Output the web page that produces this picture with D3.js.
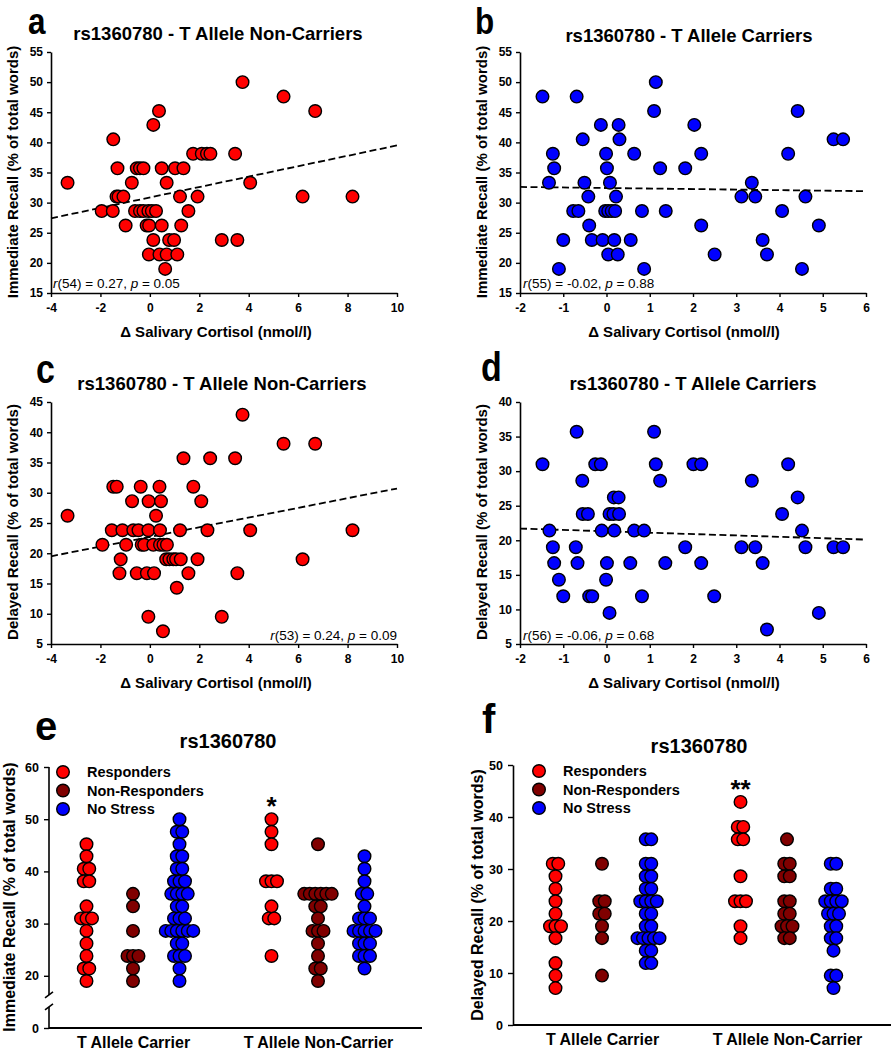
<!DOCTYPE html>
<html><head><meta charset="utf-8">
<script src="https://cdn.jsdelivr.net/npm/d3@7"></script>
<style>
body{margin:0;background:#fff}
svg{display:block;font-family:"Liberation Sans",Arial,Helvetica,sans-serif}
</style>
</head><body>
<svg id="chart" width="891" height="1050"></svg>
<script>
// ---------------- DATA ----------------
// Panel a: T allele non-carriers, immediate recall  [Δ cortisol, recall %]
const pointsA = [
 [3.75,50.0],[5.41,47.6],[0.37,45.2],[6.69,45.2],[0.14,42.9],[-1.48,40.5],
 [1.75,38.1],[2.10,38.1],[2.31,38.1],[2.45,38.1],[3.45,38.1],
 [-1.31,35.7],[-0.53,35.7],[-0.40,35.7],[-0.26,35.7],[0.48,35.7],[1.02,35.7],[1.36,35.7],
 [-3.33,33.3],[-0.73,33.3],[0.68,33.3],[4.06,33.3],
 [-1.35,31.0],[-1.27,31.0],[-1.07,31.0],[1.22,31.0],[1.93,31.0],[6.18,31.0],[8.20,31.0],
 [-1.95,28.6],[-1.50,28.6],[-0.60,28.6],[-0.40,28.6],[-0.26,28.6],[-0.06,28.6],[0.08,28.6],[0.25,28.6],[1.56,28.6],
 [-0.98,26.2],[-0.13,26.2],[-0.03,26.2],[0.48,26.2],[1.27,26.2],
 [0.14,23.8],[0.78,23.8],[0.98,23.8],[2.91,23.8],[3.54,23.8],
 [-0.04,21.4],[0.39,21.4],[0.68,21.4],[1.11,21.4],
 [0.62,19.0]
];
// Panel b: T allele carriers, immediate recall
const pointsB = [
 [-1.48,47.6],[-0.69,47.6],[1.14,50.0],[1.10,45.2],[4.42,45.2],
 [-0.13,42.9],[0.28,42.9],[2.03,42.9],
 [-0.55,40.5],[0.30,40.5],[5.25,40.5],[5.47,40.5],
 [-1.24,38.1],[-0.01,38.1],[0.64,38.1],[2.19,38.1],[4.20,38.1],
 [-1.21,35.7],[0.01,35.7],[1.24,35.7],[1.82,35.7],
 [-1.33,33.3],[-0.51,33.3],[0.08,33.3],[3.36,33.3],
 [-0.42,31.0],[0.22,31.0],[3.12,31.0],[3.44,31.0],[4.60,31.0],
 [-0.77,28.6],[-0.65,28.6],[-0.03,28.6],[0.04,28.6],[0.12,28.6],[0.20,28.6],[0.82,28.6],[1.37,28.6],[4.06,28.6],
 [-0.40,26.2],[2.19,26.2],[4.91,26.2],
 [-1.00,23.8],[-0.34,23.8],[-0.09,23.8],[0.18,23.8],[0.56,23.8],[3.61,23.8],
 [0.04,21.4],[0.26,21.4],[2.50,21.4],[3.71,21.4],
 [-1.10,19.0],[0.87,19.0],[4.52,19.0]
];
// Panel c: T allele non-carriers, delayed recall
const pointsC = [
 [3.75,42.9],[5.41,38.1],[6.69,38.1],
 [1.36,35.7],[2.44,35.7],[3.45,35.7],
 [-1.48,31.0],[-1.34,31.0],[-0.37,31.0],[0.39,31.0],[1.76,31.0],
 [-0.72,28.6],[-0.05,28.6],[0.45,28.6],[2.08,28.6],
 [-3.33,26.2],[0.25,26.2],
 [-1.54,23.8],[-1.11,23.8],[-0.67,23.8],[-0.46,23.8],[-0.06,23.8],[0.41,23.8],[1.22,23.8],[2.33,23.8],[4.06,23.8],[8.20,23.8],
 [-1.92,21.4],[-0.96,21.4],[-0.33,21.4],[-0.23,21.4],[0.14,21.4],[0.41,21.4],[0.55,21.4],[0.69,21.4],
 [-1.18,19.0],[0.66,19.0],[0.79,19.0],[0.95,19.0],[1.06,19.0],[1.25,19.0],[1.93,19.0],[6.18,19.0],
 [-1.23,16.7],[-0.53,16.7],[-0.12,16.7],[0.17,16.7],[1.56,16.7],[3.54,16.7],
 [1.09,14.3],
 [-0.06,9.5],[2.91,9.5],
 [0.53,7.1]
];
// Panel d: T allele carriers, delayed recall
const pointsD = [
 [-0.69,35.7],[1.10,35.7],
 [-1.48,31.0],[-0.26,31.0],[-0.13,31.0],[1.14,31.0],[2.01,31.0],[2.19,31.0],[4.20,31.0],
 [-0.56,28.6],[1.24,28.6],[3.36,28.6],
 [0.17,26.2],[0.28,26.2],[4.42,26.2],
 [-0.55,23.8],[-0.43,23.8],[0.07,23.8],[0.16,23.8],[0.29,23.8],[4.06,23.8],
 [-1.32,21.4],[-0.11,21.4],[0.18,21.4],[0.64,21.4],[0.87,21.4],[4.52,21.4],
 [-1.24,19.0],[-0.71,19.0],[1.82,19.0],[3.12,19.0],[3.44,19.0],[4.60,19.0],[5.25,19.0],[5.47,19.0],
 [-1.21,16.7],[-0.67,16.7],[0.01,16.7],[0.55,16.7],[1.36,16.7],[2.19,16.7],[3.61,16.7],
 [-1.10,14.3],[-0.01,14.3],
 [-1.00,11.9],[-0.40,11.9],[-0.33,11.9],[0.82,11.9],[2.49,11.9],
 [0.07,9.5],[4.91,9.5],
 [3.71,7.1]
];
// regression lines [x, y] endpoints
const fitA = [[-4,27.4],[10,39.5]];
const fitB = [[-2,32.6],[6,31.9]];
const fitC = [[-4,19.5],[10,30.7]];
const fitD = [[-2,21.7],[6,20.1]];
// stats texts [df, r, p]
const statA = ["54","0.27","0.05"];
const statB = ["55","-0.02","0.88"];
const statC = ["53","0.24","0.09"];
const statD = ["56","-0.06","0.68"];

// Panels e/f categories & groups
const categories = ["T Allele Carrier","T Allele Non-Carrier"];
const groups = ["Responders","Non-Responders","No Stress"];
// Panel e (immediate recall)
const eRespCarrier = [45.2,42.9,40.5,40.5,38.1,38.1,33.3,31.0,31.0,31.0,28.6,26.2,23.8,21.4,21.4,19.0];
const eNonRespCarrier = [35.7,33.3,28.6,23.8,23.8,23.8,21.4,19.0];
const eNoStressCarrier = [50.0,47.6,47.6,45.2,42.9,42.9,40.5,40.5,38.1,38.1,38.1,35.7,35.7,35.7,35.7,33.3,33.3,
  31.0,31.0,31.0,28.6,28.6,28.6,28.6,28.6,28.6,26.2,26.2,23.8,23.8,23.8,21.4,19.0];
const eRespNonCarrier = [50.0,47.6,45.2,38.1,38.1,38.1,33.3,31.0,31.0,23.8];
const eNonRespNonCarrier = [45.2,35.7,35.7,35.7,35.7,35.7,35.7,33.3,33.3,31.0,28.6,28.6,28.6,26.2,23.8,21.4,21.4,19.0];
const eNoStressNonCarrier = [42.9,40.5,38.1,35.7,35.7,33.3,31.0,31.0,31.0,28.6,28.6,28.6,28.6,28.6,
  26.2,26.2,26.2,23.8,23.8,23.8,21.4];
// Panel f (delayed recall)
const fRespCarrier = [31.0,31.0,28.6,26.2,23.8,21.4,19.0,19.0,19.0,16.7,11.9,9.5,7.1];
const fNonRespCarrier = [31.0,23.8,23.8,21.4,21.4,19.0,16.7,9.5];
const fNoStressCarrier = [35.7,35.7,31.0,31.0,28.6,28.6,26.2,26.2,23.8,23.8,23.8,23.8,21.4,21.4,19.0,19.0,
  16.7,16.7,16.7,16.7,16.7,14.3,14.3,11.9,11.9];
const fRespNonCarrier = [42.9,38.1,38.1,35.7,35.7,28.6,23.8,23.8,23.8,19.0,16.7];
const fNonRespNonCarrier = [35.7,31.0,31.0,28.6,28.6,23.8,23.8,21.4,21.4,19.0,19.0,19.0,16.7,16.7];
const fNoStressNonCarrier = [31.0,31.0,26.2,26.2,23.8,23.8,23.8,23.8,21.4,21.4,21.4,19.0,19.0,16.7,16.7,14.3,9.5,9.5,7.1];
const eSignif = "*";
const fSignif = "**";

// ---------------- DRAWING ----------------
const svg = d3.select("#chart");
const RED = "#ff0000", BLUE = "#0000ff", DARKRED = "#800000";
const R = 6.3;

function letter(t, x, y, sx, fs) {
  svg.append("text").attr("transform", `translate(${x},${y}) scale(${sx},1)`)
    .attr("font-size", fs).attr("font-weight", "bold").text(t);
}
function ytitle(t, x, y, fs) {
  svg.append("text").attr("transform", `translate(${x},${y}) rotate(-90)`)
    .attr("text-anchor", "middle").attr("dy", "0.35em")
    .attr("font-size", fs).attr("font-weight", "bold").text(t);
}
function styleAxis(g, fs) {
  g.selectAll("path.domain").attr("stroke", "#000").attr("stroke-width", 1.6);
  g.selectAll(".tick line").attr("stroke", "#000").attr("stroke-width", 1.4);
  g.selectAll(".tick text").attr("font-size", fs).attr("font-weight", "bold").attr("fill", "#000")
    .attr("font-family", '"Liberation Sans",Arial,sans-serif');
}

function scatter(c) {
  const x = d3.scaleLinear().domain(c.xd).range(c.xr);
  const y = d3.scaleLinear().domain(c.yd).range(c.yr);
  const g = svg.append("g");
  // axes
  const ya = g.append("g").attr("transform", `translate(${c.xr[0]},0)`)
    .call(d3.axisLeft(y).tickValues(c.yt).tickSize(4).tickSizeOuter(0).tickPadding(4).tickFormat(d => String(d)));
  styleAxis(ya, 12);
  const xa = g.append("g").attr("transform", `translate(0,${c.yr[0]})`)
    .call(d3.axisBottom(x).tickValues(c.xt).tickSize(4).tickSizeOuter(0).tickPadding(6).tickFormat(d => String(d)));
  styleAxis(xa, 12);
  // regression
  g.append("line")
    .attr("x1", x(c.fit[0][0])).attr("y1", y(c.fit[0][1]))
    .attr("x2", x(c.fit[1][0])).attr("y2", y(c.fit[1][1]))
    .attr("stroke", "#000").attr("stroke-width", 1.8).attr("stroke-dasharray", "7,3.5");
  // points
  g.selectAll("circle.pt").data(c.pts).join("circle").attr("class", "pt")
    .attr("cx", d => x(d[0])).attr("cy", d => y(d[1])).attr("r", R)
    .attr("fill", c.color).attr("stroke", "#000").attr("stroke-width", 1.4);
  // title
  g.append("text").attr("x", c.tx).attr("y", c.ty).attr("text-anchor", "middle")
    .attr("font-size", 18.5).attr("font-weight", "bold").text(c.title);
  // x title
  g.append("text").attr("x", c.xlx).attr("y", c.xly).attr("text-anchor", "middle")
    .attr("font-size", 15).attr("font-weight", "bold").text("\u0394 Salivary Cortisol (nmol/l)");
  ytitle(c.ylabel, c.ylx, c.yly, 15);
  // stats
  const st = g.append("text").attr("x", c.sx).attr("y", c.sy).attr("text-anchor", c.sa)
    .attr("font-size", 13.5);
  st.append("tspan").attr("font-style", "italic").text("r");
  st.append("tspan").text(`(${c.stat[0]}) = ${c.stat[1]}, `);
  st.append("tspan").attr("font-style", "italic").text("p");
  st.append("tspan").text(` = ${c.stat[2]}`);
}

scatter({xd:[-4,10], xr:[51,397], yd:[15,55], yr:[293,52], xt:d3.range(-4,11,2), yt:d3.range(15,56,5),
  pts:pointsA, fit:fitA, color:RED, title:"rs1360780 - T Allele Non-Carriers", tx:218, ty:40,
  xlx:216, xly:337, ylabel:"Immediate Recall (% of total words)", ylx:13, yly:172,
  stat:statA, sx:53, sy:288, sa:"start"});
scatter({xd:[-2,6], xr:[520,866], yd:[15,55], yr:[293,52], xt:d3.range(-2,7,1), yt:d3.range(15,56,5),
  pts:pointsB, fit:fitB, color:BLUE, title:"rs1360780 - T Allele Carriers", tx:689, ty:42,
  xlx:684, xly:337, ylabel:"Immediate Recall (% of total words)", ylx:482, yly:172,
  stat:statB, sx:523, sy:288, sa:"start"});
scatter({xd:[-4,10], xr:[51,397], yd:[5,45], yr:[644,402], xt:d3.range(-4,11,2), yt:d3.range(5,46,5),
  pts:pointsC, fit:fitC, color:RED, title:"rs1360780 - T Allele Non-Carriers", tx:222, ty:390,
  xlx:216, xly:688, ylabel:"Delayed Recall (% of total words)", ylx:13, yly:522,
  stat:statC, sx:397, sy:640, sa:"end"});
scatter({xd:[-2,6], xr:[520,866], yd:[5,40], yr:[644,402], xt:d3.range(-2,7,1), yt:d3.range(5,41,5),
  pts:pointsD, fit:fitD, color:BLUE, title:"rs1360780 - T Allele Carriers", tx:693, ty:390,
  xlx:684, xly:688, ylabel:"Delayed Recall (% of total words)", ylx:482, yly:522,
  stat:statD, sx:523, sy:640, sa:"start"});

function swarmOffsets(vals, step) {
  const counts = d3.rollup(vals, v => v.length, v => v);
  const seen = new Map();
  return vals.map(v => {
    const n = counts.get(v), i = seen.get(v) || 0;
    seen.set(v, i + 1);
    return { v, off: (i - (n - 1) / 2) * step };
  });
}

function swarm(c) {
  const y = d3.scaleLinear().domain(c.yd).range(c.yr);
  const cx = d3.scalePoint().domain(categories).range(c.catX);
  const colors = [RED, DARKRED, BLUE];
  const g = svg.append("g");
  // y axis
  const ya = g.append("g").attr("transform", `translate(${c.axX},0)`)
    .call(d3.axisLeft(y).tickValues(c.yt).tickSize(5).tickSizeOuter(0).tickPadding(5).tickFormat(c.fmt));
  styleAxis(ya, 12.5);
  if (c.brk) {
    ya.select("path.domain").remove();
    const b = y(c.brk);
    g.append("line").attr("x1", c.axX).attr("x2", c.axX).attr("y1", c.yr[1]).attr("y2", b - 7)
      .attr("stroke", "#000").attr("stroke-width", 1.6);
    g.append("line").attr("x1", c.axX).attr("x2", c.axX).attr("y1", b + 5).attr("y2", c.yr[0])
      .attr("stroke", "#000").attr("stroke-width", 1.6);
    g.append("path").attr("d", `M${c.axX-4},${b-4} L${c.axX+4},${b-10} M${c.axX-4},${b+8} L${c.axX+4},${b+2}`)
      .attr("stroke", "#000").attr("stroke-width", 1.6).attr("fill", "none");
  }
  // x axis line
  g.append("line").attr("x1", c.axX).attr("x2", c.axEnd).attr("y1", c.yr[0]).attr("y2", c.yr[0])
    .attr("stroke", "#000").attr("stroke-width", 2);
  const xa = g.append("g").attr("transform", `translate(0,${c.yr[0]})`)
    .call(d3.axisBottom(cx).tickSize(0).tickPadding(9));
  xa.select("path.domain").remove();
  xa.selectAll(".tick text").attr("font-size", 16).attr("font-weight", "bold").attr("fill", "#000")
    .attr("font-family", '"Liberation Sans",Arial,sans-serif');
  // points
  c.data.forEach((catGroups, ci) => {
    catGroups.forEach((vals, gi) => {
      const x0 = cx(categories[ci]) + (gi - 1) * c.gap;
      g.append("g").selectAll("circle").data(swarmOffsets(vals, 5.5)).join("circle")
        .attr("cx", d => x0 + d.off).attr("cy", d => y(d.v)).attr("r", R)
        .attr("fill", colors[gi]).attr("stroke", "#000").attr("stroke-width", 1.4);
    });
  });
  // significance
  g.append("text").attr("x", cx(categories[1]) - c.gap).attr("y", c.sigY).attr("text-anchor", "middle")
    .attr("font-size", 26).attr("font-weight", "bold").text(c.sig);
  // legend
  groups.forEach((name, i) => {
    const ly = c.legY + i * 18.5;
    g.append("circle").attr("cx", c.legX).attr("cy", ly).attr("r", R)
      .attr("fill", colors[i]).attr("stroke", "#000").attr("stroke-width", 1.4);
    g.append("text").attr("x", c.legX + 24).attr("y", ly + 5).attr("font-size", 14.5)
      .attr("font-weight", "bold").text(name);
  });
  // title
  g.append("text").attr("x", c.tx).attr("y", c.ty).attr("text-anchor", "middle")
    .attr("font-size", 20).attr("font-weight", "bold").text("rs1360780");
  ytitle(c.ylabel, c.ylx, c.yly, 16);
}

swarm({yd:[10,60], yr:[1028,767], yt:[10,20,30,40,50,60], fmt:d => d === 10 ? "0" : String(d), brk:15,
  catX:[133,318], gap:46.5, axX:49, axEnd:422,
  data:[[eRespCarrier,eNonRespCarrier,eNoStressCarrier],[eRespNonCarrier,eNonRespNonCarrier,eNoStressNonCarrier]],
  sig:eSignif, sigY:815, legX:63, legY:772, tx:228, ty:748,
  ylabel:"Immediate Recall (% of total words)", ylx:9, yly:897});
swarm({yd:[0,50], yr:[1025,765], yt:[0,10,20,30,40,50], fmt:d => String(d), brk:null,
  catX:[602,787], gap:46.5, axX:513, axEnd:891,
  data:[[fRespCarrier,fNonRespCarrier,fNoStressCarrier],[fRespNonCarrier,fNonRespNonCarrier,fNoStressNonCarrier]],
  sig:fSignif, sigY:798, legX:539, legY:771, tx:699, ty:753,
  ylabel:"Delayed Recall (% of total words)", ylx:477, yly:895});

letter("a", 28, 34, 0.85, 37);
letter("b", 475, 34, 0.85, 37);
letter("c", 36, 383, 0.85, 40);
letter("d", 481, 381, 0.85, 40);
letter("e", 35, 740, 1, 40);
letter("f", 482, 733, 1, 40);
</script>
</body></html>
